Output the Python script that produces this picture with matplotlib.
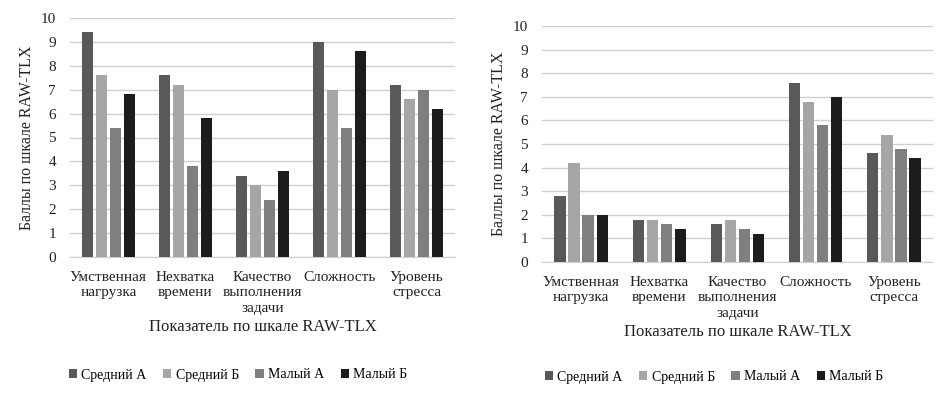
import matplotlib
matplotlib.use("Agg")
import matplotlib.pyplot as plt
import numpy as np

plt.rcParams['font.family'] = ['Liberation Serif', 'DejaVu Serif']

categories = ["Умственная\nнагрузка", "Нехватка\nвремени", "Качество\nвыполнения\nзадачи",
              "Сложность", "Уровень\nстресса"]
series_names = ["Средний А", "Средний Б", "Малый А", "Малый Б"]
colors = ["#595959", "#a6a6a6", "#7f7f7f", "#1c1c1c"]

left_values = {
    "Средний А": [9.4, 7.6, 3.4, 9.0, 7.2],
    "Средний Б": [7.6, 7.2, 3.0, 7.0, 6.6],
    "Малый А":   [5.4, 3.8, 2.4, 5.4, 7.0],
    "Малый Б":   [6.8, 5.8, 3.6, 8.6, 6.2],
}
right_values = {
    "Средний А": [2.8, 1.8, 1.6, 7.6, 4.6],
    "Средний Б": [4.2, 1.8, 1.8, 6.8, 5.4],
    "Малый А":   [2.0, 1.6, 1.4, 5.8, 4.8],
    "Малый Б":   [2.0, 1.4, 1.2, 7.0, 4.4],
}
y_ticks = list(range(0, 11))
ylabel = "Баллы по шкале RAW-TLX"
xlabel = "Показатель по шкале RAW-TLX"

W, H = 951, 398
fig = plt.figure(figsize=(W / 100, H / 100), dpi=100)

def draw(rect, values, leg_x, leg_y):
    ax = fig.add_axes(rect)
    x = np.arange(len(categories))
    step = 0.18
    width = 0.145
    handles = []
    for i, name in enumerate(series_names):
        b = ax.bar(x + (i - 1.5) * step, values[name], width, color=colors[i],
                   label=name, zorder=3)
        handles.append(b)
    ax.set_ylim(0, 10)
    ax.set_xlim(-0.5, len(categories) - 0.5)
    ax.set_yticks(y_ticks)
    ax.set_xticks(x)
    ax.set_xticklabels(categories, fontsize=11, linespacing=1.25)
    ax.tick_params(axis='both', length=0, colors='#222222')
    ax.tick_params(axis='y', labelsize=11, pad=10)
    ax.tick_params(axis='x', pad=10)
    ax.grid(axis='y', color='#d0d0d0', linewidth=1.0, zorder=0)
    for s in ['top', 'right', 'left']:
        ax.spines[s].set_visible(False)
    ax.spines['bottom'].set_color('#d0d0d0')
    ax.set_ylabel(ylabel, fontsize=11.5, color='#222222', labelpad=4)
    ax.set_xlabel(xlabel, fontsize=12, color='#222222', labelpad=3)
    fig.legend(handles, series_names, loc='center',
               bbox_to_anchor=(leg_x, leg_y), ncol=4, frameon=False,
               fontsize=10, handlelength=0.6, handleheight=0.6, handletextpad=0.3,
               columnspacing=1.2)
    return ax

draw([70 / W, 1 - 257 / H, 385 / W, 239 / H], left_values, 238 / W, 1 - 375 / H)
draw([542 / W, 1 - 262 / H, 391 / W, 236 / H], right_values, 714 / W, 1 - 377 / H)

fig.savefig("out.png", dpi=100, facecolor='white')
